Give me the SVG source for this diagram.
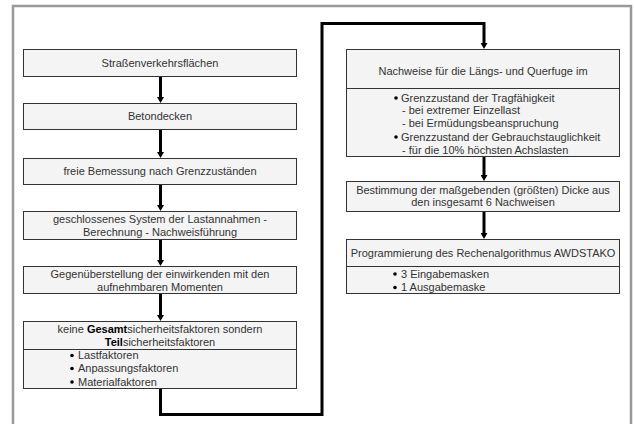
<svg xmlns="http://www.w3.org/2000/svg" width="634" height="424" viewBox="0 0 634 424">
<style>
.box{fill:#f4f4f4;stroke:#333;stroke-width:1}
.div{stroke:#333;stroke-width:1}
text{font-family:"Liberation Sans",Arial,sans-serif;font-size:11px;fill:#333}
.c{text-anchor:middle}
.con{fill:none;stroke:#000;stroke-width:3}
</style>
<defs>
<marker id="ah" viewBox="0 0 6 7" refX="0" refY="3.5" markerWidth="6" markerHeight="7" markerUnits="userSpaceOnUse" orient="auto">
<path d="M0,0 L6,3.5 L0,7 z" fill="#000"/>
</marker>
</defs>
<rect x="0" y="0" width="634" height="424" fill="#fff"/>
<path d="M13,430 V6 H631 V430" fill="none" stroke="#999" stroke-width="2.5"/>

<g id="connectors">
<path class="con" d="M160.5,76 V97" marker-end="url(#ah)"/>
<path class="con" d="M160.5,129 V152" marker-end="url(#ah)"/>
<path class="con" d="M160.5,184 V205" marker-end="url(#ah)"/>
<path class="con" d="M160.5,239 V260" marker-end="url(#ah)"/>
<path class="con" d="M160.5,293 V315" marker-end="url(#ah)"/>
<path class="con" d="M160.5,388 V414.5 H322 V23.5 H484 V43" marker-end="url(#ah)"/>
<path class="con" d="M484,157 V175" marker-end="url(#ah)"/>
<path class="con" d="M484,212 V233" marker-end="url(#ah)"/>
</g>

<g id="n1">
<rect class="box" x="23.5" y="49.5" width="273" height="27"/>
<text class="c" x="160" y="67">Straßenverkehrsflächen</text>
</g>
<g id="n2">
<rect class="box" x="23.5" y="103.5" width="273" height="26"/>
<text class="c" x="160" y="120">Betondecken</text>
</g>
<g id="n3">
<rect class="box" x="23.5" y="158.5" width="273" height="26"/>
<text class="c" x="160" y="175">freie Bemessung nach Grenzzuständen</text>
</g>
<g id="n4">
<rect class="box" x="23.5" y="211.5" width="273" height="28"/>
<text class="c" x="160" y="223">geschlossenes System der Lastannahmen -</text>
<text class="c" x="160" y="236">Berechnung - Nachweisführung</text>
</g>
<g id="n5">
<rect class="box" x="23.5" y="266.5" width="273" height="27"/>
<text class="c" x="160" y="278">Gegenüberstellung der einwirkenden mit den</text>
<text class="c" x="160" y="291">aufnehmbaren Momenten</text>
</g>
<g id="n6">
<rect class="box" x="23.5" y="321.5" width="273" height="67"/>
<line class="div" x1="23.5" y1="349.5" x2="296.5" y2="349.5"/>
<text class="c" x="160" y="333">keine <tspan font-weight="bold" fill="#000">Gesamt</tspan>sicherheitsfaktoren sondern</text>
<text class="c" x="160" y="346"><tspan font-weight="bold" fill="#000">Teil</tspan>sicherheitsfaktoren</text>
<circle cx="72" cy="355.5" r="1.8" fill="#000"/>
<text x="78" y="359">Lastfaktoren</text>
<circle cx="72" cy="368.5" r="1.8" fill="#000"/>
<text x="78" y="372">Anpassungsfaktoren</text>
<circle cx="72" cy="382" r="1.8" fill="#000"/>
<text x="78" y="386">Materialfaktoren</text>
</g>

<g id="n7">
<rect class="box" x="346.5" y="49.5" width="273" height="107"/>
<line class="div" x1="346.5" y1="88.5" x2="619.5" y2="88.5"/>
<text class="c" x="483" y="75">Nachweise für die Längs- und Querfuge im</text>
<circle cx="396" cy="98" r="1.8" fill="#000"/>
<text x="401" y="102">Grenzzustand der Tragfähigkeit</text>
<text x="402" y="114">- bei extremer Einzellast</text>
<text x="402" y="127">- bei Ermüdungsbeanspruchung</text>
<circle cx="396" cy="137" r="1.8" fill="#000"/>
<text x="401" y="141">Grenzzustand der Gebrauchstauglichkeit</text>
<text x="402" y="154">- für die 10% höchsten Achslasten</text>
</g>
<g id="n8">
<rect class="box" x="346.5" y="181.5" width="273" height="30"/>
<text class="c" x="483" y="194">Bestimmung der maßgebenden (größten) Dicke aus</text>
<text class="c" x="483" y="206">den insgesamt 6 Nachweisen</text>
</g>
<g id="n9">
<rect class="box" x="346.5" y="239.5" width="273" height="54"/>
<line class="div" x1="346.5" y1="266.5" x2="619.5" y2="266.5"/>
<text class="c" x="483" y="257">Programmierung des Rechenalgorithmus AWDSTAKO</text>
<circle cx="395" cy="274" r="1.8" fill="#000"/>
<text x="401" y="278">3 Eingabemasken</text>
<circle cx="395" cy="287.5" r="1.8" fill="#000"/>
<text x="401" y="291">1 Ausgabemaske</text>
</g>
</svg>
